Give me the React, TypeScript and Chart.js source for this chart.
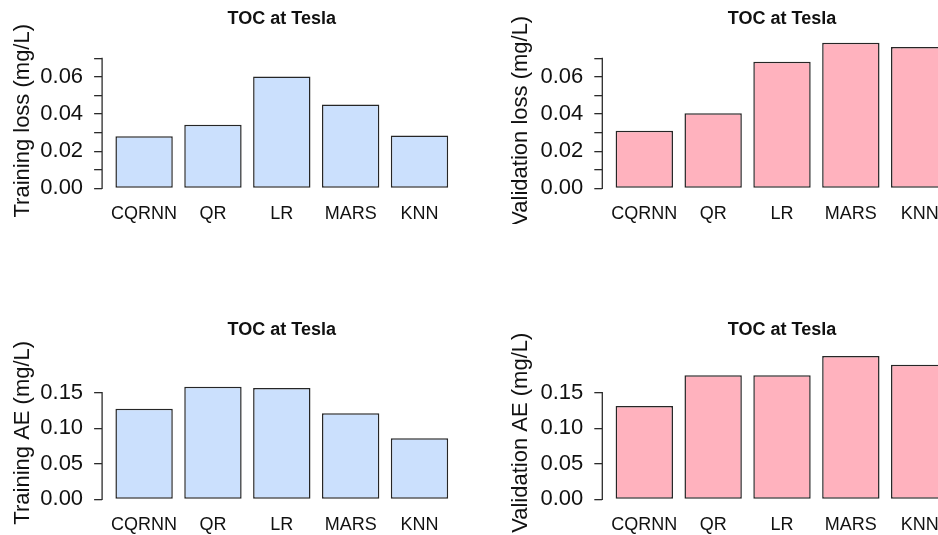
import React, { useEffect, useRef } from 'react';
import { Chart, registerables } from 'chart.js';

Chart.register(...registerables);
Chart.defaults.font.family = '"Liberation Sans", Arial, Helvetica, sans-serif';

// ---- data ----
const CATEGORIES = ['CQRNN', 'QR', 'LR', 'MARS', 'KNN'];
const TRAINING_LOSS = [0.0280, 0.0343, 0.0602, 0.0451, 0.0284];
const VALIDATION_LOSS = [0.0310, 0.0405, 0.0682, 0.0784, 0.0761];
const TRAINING_AE = [0.1275, 0.1584, 0.1566, 0.1209, 0.0858];
const VALIDATION_AE = [0.1312, 0.1744, 0.1744, 0.2016, 0.1894];

const LOSS_TICKS = [0, 0.01, 0.02, 0.03, 0.04, 0.05, 0.06, 0.07];
const LOSS_TICK_LABELS = ['0.00', '', '0.02', '', '0.04', '', '0.06', ''];
const AE_TICKS = [0, 0.05, 0.1, 0.15];
const AE_TICK_LABELS = ['0.00', '0.05', '0.10', '0.15'];

const TITLE = 'TOC at Tesla';
const LOSS_MAX = 0.0728;
const AE_MAX = 0.1872;

// ---- styling ----
const BLUE = '#CBE0FD';
const PINK = '#FFB2BE';
const BORDER = '#262626';
const AXIS_COLOR = '#2b2b2b';
const TEXT = '#111111';

const SPACE = 0.2;
const CENTERS = CATEGORIES.map((_, i) => SPACE + i * (1 + SPACE) + 0.5);
const X_SPAN = CATEGORIES.length * (1 + SPACE) - SPACE;
const X_MIN = SPACE - 0.04 * X_SPAN;
const X_MAX = SPACE + X_SPAN + 0.04 * X_SPAN;

const CANVAS_H = 224;
const CHART_BOTTOM = 188.3;
const AREA_WIDTH = 359.4;

type PanelProps = {
  values: number[];
  ticks: number[];
  tickLabels: string[];
  yMax: number;
  yTitle: string;
  color: string;
  left: number;
  top: number;
  width: number;
  axisX: number;
  titleY: number;
  chartTop: number;
};

function Panel(p: PanelProps) {
  const ref = useRef<HTMLCanvasElement>(null);
  useEffect(() => {
    if (!ref.current) return;
    const axisLine = {
      id: 'axisLine',
      afterDraw(chart: any) {
        const y = chart.scales.y;
        const ctx = chart.ctx;
        const x = chart.chartArea.left;
        ctx.save();
        ctx.strokeStyle = AXIS_COLOR;
        ctx.lineWidth = 1.3;
        ctx.beginPath();
        ctx.moveTo(x, y.getPixelForValue(p.ticks[0]) + 0.65);
        ctx.lineTo(x, y.getPixelForValue(p.ticks[p.ticks.length - 1]) - 0.65);
        ctx.stroke();
        ctx.restore();
      },
    };
    const chart = new Chart(ref.current, {
      type: 'bar',
      data: {
        datasets: [
          {
            data: p.values.map((v, i) => ({ x: CENTERS[i], y: v })),
            backgroundColor: p.color,
            borderColor: BORDER,
            borderWidth: 1.5,
            borderSkipped: false,
            categoryPercentage: 1,
            barPercentage: 1 / (1 + SPACE),
            clip: false,
          } as any,
        ],
      },
      options: {
        responsive: false,
        animation: false,
        devicePixelRatio: 1,
        layout: { padding: { left: 0, top: 0, bottom: 0, right: p.width - p.axisX - AREA_WIDTH } },
        plugins: {
          legend: { display: false },
          tooltip: { enabled: false },
          title: {
            display: true,
            fullSize: false,
            text: TITLE,
            color: TEXT,
            font: { size: 18, weight: 'bold' },
            padding: { top: p.titleY - 10.8, bottom: p.chartTop - p.titleY - 10.8 },
          },
        },
        scales: {
          x: {
            type: 'linear',
            min: X_MIN,
            max: X_MAX,
            offset: false,
            bounds: 'data',
            grid: { display: false, drawTicks: false, offset: false },
            border: { display: false },
            afterFit: (s: any) => {
              s.height = CANVAS_H - CHART_BOTTOM;
            },
            afterBuildTicks: (s: any) => {
              s.ticks = CENTERS.map((v) => ({ value: v }));
            },
            ticks: {
              autoSkip: false,
              maxRotation: 0,
              minRotation: 0,
              padding: 14.6,
              color: TEXT,
              font: { size: 18 },
              callback: (_v: any, i: number) => CATEGORIES[i],
            },
          },
          y: {
            min: 0,
            max: p.yMax,
            bounds: 'data',
            border: { display: false },
            grid: { drawOnChartArea: false, drawTicks: true, tickLength: 8, color: AXIS_COLOR, lineWidth: 1.3 },
            afterFit: (s: any) => {
              s.width = p.axisX;
            },
            afterBuildTicks: (s: any) => {
              s.ticks = p.ticks.map((v) => ({ value: v }));
            },
            ticks: {
              autoSkip: false,
              padding: 11,
              color: TEXT,
              font: { size: 22 },
              callback: (_v: any, i: number) => p.tickLabels[i],
            },
            title: {
              display: true,
              text: p.yTitle,
              color: TEXT,
              font: { size: 22 },
              padding: { top: 10, bottom: 0 },
            },
          },
        },
      } as any,
      plugins: [axisLine],
    });
    return () => chart.destroy();
  }, []);
  return (
    <canvas
      ref={ref}
      width={p.width}
      height={CANVAS_H}
      style={{ position: 'absolute', left: p.left, top: p.top, width: p.width, height: CANVAS_H }}
    />
  );
}

export default function App() {
  return (
    <div
      style={{
        position: 'fixed',
        left: 0,
        top: 0,
        width: 938,
        height: 535,
        overflow: 'hidden',
        background: '#ffffff',
      }}
    >
      <Panel values={TRAINING_LOSS} ticks={LOSS_TICKS} tickLabels={LOSS_TICK_LABELS} yMax={LOSS_MAX}
        yTitle="Training loss (mg/L)" color={BLUE} left={0} top={0} width={469} axisX={102.1} titleY={19} chartTop={53.2} />
      <Panel values={VALIDATION_LOSS} ticks={LOSS_TICKS} tickLabels={LOSS_TICK_LABELS} yMax={LOSS_MAX}
        yTitle="Validation loss (mg/L)" color={PINK} left={498} top={0} width={472} axisX={104.3} titleY={19} chartTop={53.2} />
      <Panel values={TRAINING_AE} ticks={AE_TICKS} tickLabels={AE_TICK_LABELS} yMax={AE_MAX}
        yTitle="Training AE (mg/L)" color={BLUE} left={0} top={311} width={469} axisX={102.1} titleY={19.5} chartTop={55.2} />
      <Panel values={VALIDATION_AE} ticks={AE_TICKS} tickLabels={AE_TICK_LABELS} yMax={AE_MAX}
        yTitle="Validation AE (mg/L)" color={PINK} left={498} top={311} width={472} axisX={104.3} titleY={19.5} chartTop={55.2} />
    </div>
  );
}
